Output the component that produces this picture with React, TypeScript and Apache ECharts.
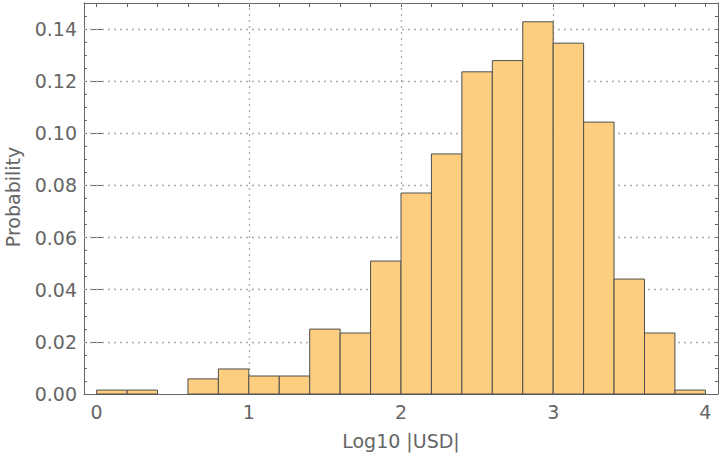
import React, { useEffect, useRef } from "react";
import * as echarts from "echarts";

const binStarts = [0.0, 0.2, 0.4, 0.6, 0.8, 1.0, 1.2, 1.4, 1.6, 1.8, 2.0, 2.2, 2.4, 2.6, 2.8, 3.0, 3.2, 3.4, 3.6, 3.8];
const binWidth = 0.2;
const probabilities = [0.0015, 0.0015, 0, 0.0058, 0.0096, 0.0069, 0.0069, 0.0249, 0.0234, 0.051, 0.0771, 0.0921, 0.1236, 0.1279, 0.1428, 0.1346, 0.1043, 0.0441, 0.0234, 0.0015];
const xTickLabels = [0, 1, 2, 3, 4];
const yTickLabels = [0, 0.02, 0.04, 0.06, 0.08, 0.1, 0.12, 0.14];
const xGridLines = [1, 2, 3];
const xMinorTicks = [0, 0.2, 0.4, 0.6, 0.8, 1, 1.2, 1.4, 1.6, 1.8, 2, 2.2, 2.4, 2.6, 2.8, 3, 3.2, 3.4, 3.6, 3.8, 4];
const xAxisName = "Log10 |USD|";
const yAxisName = "Probability";

const FONT = "DejaVu Sans";
const GRAY = "#666666";

export default function App() {
  const ref = useRef<HTMLDivElement>(null);
  useEffect(() => {
    if (!ref.current) return;
    const chart = echarts.init(ref.current, null, { renderer: "svg" });
    const data = binStarts.map((s, i) => [s, s + binWidth, probabilities[i]]);
    const xMin = -0.083;
    const xMax = 4.083;
    const yMin = 0;
    const yMax = 0.15;
    const grid = { left: 84, right: 2, top: 3, bottom: 64 };
    chart.setOption({
      animation: false,
      grid,
      xAxis: [
        {
          type: "value",
          min: xMin,
          max: xMax,
          position: "bottom",
          axisLine: { show: true, onZero: false, lineStyle: { color: GRAY, width: 1 } },
          axisTick: { show: false },
          splitLine: { show: false },
          axisLabel: {
            customValues: xTickLabels,
            color: GRAY,
            fontFamily: FONT,
            fontSize: 19,
            margin: 8,
            formatter: (v: number) => String(Math.round(v)),
          },
        },
        {
          type: "value",
          min: xMin,
          max: xMax,
          position: "top",
          axisLine: { show: true, onZero: false, lineStyle: { color: GRAY, width: 1 } },
          axisTick: { show: true, inside: true, length: 4, customValues: xMinorTicks, lineStyle: { color: GRAY } },
          splitLine: { show: false },
          axisLabel: { show: false },
        },
      ],
      yAxis: [
        {
          type: "value",
          min: yMin,
          max: yMax,
          interval: 0.005,
          position: "left",
          axisLine: { show: true, onZero: false, lineStyle: { color: GRAY, width: 1 } },
          axisTick: { show: true, inside: true, length: 3, lineStyle: { color: GRAY } },
          splitLine: { show: false },
          axisLabel: {
            customValues: yTickLabels,
            color: GRAY,
            fontFamily: FONT,
            fontSize: 19,
            margin: 7,
            formatter: (v: number) => v.toFixed(2),
          },
        },
        {
          type: "value",
          min: yMin,
          max: yMax,
          interval: 0.005,
          position: "right",
          axisLine: { show: true, onZero: false, lineStyle: { color: GRAY, width: 1 } },
          axisTick: { show: true, inside: true, length: 3, lineStyle: { color: GRAY } },
          splitLine: { show: false },
          axisLabel: { show: false },
        },
        {
          type: "value",
          min: yMin,
          max: yMax,
          position: "left",
          axisLine: { show: false },
          axisTick: { show: true, inside: true, length: 6, customValues: yTickLabels, lineStyle: { color: GRAY } },
          splitLine: { show: false },
          axisLabel: { show: false },
        },
        {
          type: "value",
          min: yMin,
          max: yMax,
          position: "right",
          axisLine: { show: false },
          axisTick: { show: true, inside: true, length: 6, customValues: yTickLabels, lineStyle: { color: GRAY } },
          splitLine: { show: false },
          axisLabel: { show: false },
        },
      ],
      graphic: [
        {
          type: "text",
          x: 401,
          y: 441,
          style: { text: xAxisName, fill: GRAY, font: `19px '${FONT}'`, align: "center", verticalAlign: "middle" },
        },
        {
          type: "text",
          x: 3,
          y: 197,
          rotation: Math.PI / 2,
          style: { text: yAxisName, fill: GRAY, font: `19px '${FONT}'`, align: "center", verticalAlign: "top" },
        },
      ],
      series: [
        {
          type: "line",
          xAxisIndex: 0,
          yAxisIndex: 0,
          data: [],
          z: 1,
          silent: true,
          markLine: {
            silent: true,
            symbol: "none",
            label: { show: false },
            lineStyle: { color: "#aaaaaa", type: [2, 4], width: 1.3 },
            data: [
              ...xGridLines.map((v) => ({ xAxis: v })),
              ...yTickLabels.filter((v) => v > 0).map((v) => ({ yAxis: v })),
            ],
          },
        },
        {
          type: "custom",
          xAxisIndex: 0,
          yAxisIndex: 0,
          z: 5,
          data,
          renderItem: (params: any, api: any) => {
            const x0 = api.value(0);
            const x1 = api.value(1);
            const v = api.value(2);
            if (!(v > 0)) return null;
            const p0 = api.coord([x0, 0]);
            const p1 = api.coord([x1, v]);
            return {
              type: "rect",
              shape: { x: p0[0], y: p1[1], width: p1[0] - p0[0], height: p0[1] - p1[1] },
              style: { fill: "#FDCE80", stroke: "#4f4f4f", lineWidth: 1 },
            };
          },
        },
      ],
    });
    return () => chart.dispose();
  }, []);
  return <div ref={ref} style={{ width: 720, height: 458, position: "absolute", left: 0, top: 0 }} />;
}
